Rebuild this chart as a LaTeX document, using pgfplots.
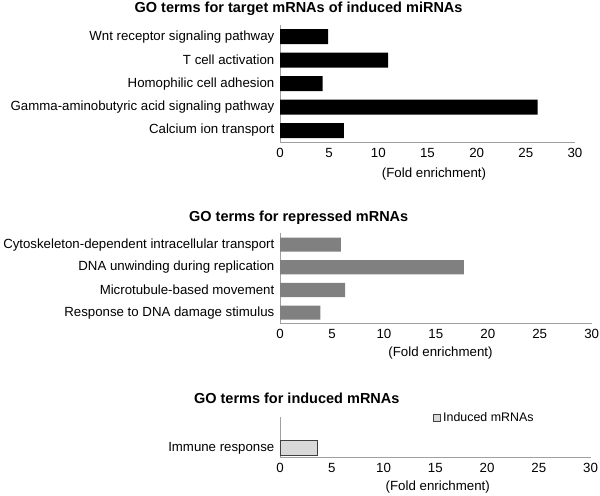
\documentclass[border=0pt]{standalone}
\usepackage{fontspec}
\setmainfont{Liberation Sans}
\usepackage{pgfplots}
\pgfplotsset{compat=1.18}
\definecolor{axgray}{HTML}{A0A0A0}
\definecolor{bargray}{HTML}{808080}
\definecolor{lightbar}{HTML}{D9D9D9}
\definecolor{edgegray}{HTML}{404040}
\pgfplotsset{
  goaxis/.style={
    scale only axis,
    anchor=south west,
    xbar,
    xmin=0, xmax=30,
    xtick={0,5,...,30},
    axis x line*=bottom,
    axis y line*=left,
    axis line style={draw=axgray, line width=1bp},
    major tick length=0pt,
    /pgf/number format/assume math mode=true,
    xticklabel style={anchor=north, inner sep=0pt, yshift=-5.5bp,
      font=\fontsize{13.3bp}{15bp}\selectfont},
    yticklabel style={anchor=east, inner sep=0pt, xshift=-5.5bp,
      font=\fontsize{13.25bp}{15bp}\selectfont},
    xlabel={(Fold enrichment)},
    title style={anchor=base, font=\bfseries\fontsize{14.5bp}{17bp}\selectfont},
    clip=false,
  },
}
\begin{document}
\begin{tikzpicture}
\useasboundingbox (0,0) rectangle (600bp,496bp);

% Panel 1
\begin{axis}[goaxis,
  at={(280bp,353.7bp)},
  width=295bp, height=117.3bp,
  ymin=-0.5, ymax=4.5,
  bar width=0.64,
  ytick={0,1,2,3,4},
  yticklabels={Calcium ion transport,
    Gamma-aminobutyric acid signaling pathway,
    Homophilic cell adhesion,
    T cell activation,
    Wnt receptor signaling pathway},
  title={GO terms for target mRNAs of induced miRNAs},
  title style={at={(0.063,1)}, yshift=6.3bp},
  xlabel style={at={(axis description cs:0.522,0)}, anchor=base, yshift=-35bp,
    font=\fontsize{13.3bp}{15bp}\selectfont},
]
\addplot[fill=black, draw=none] coordinates {
  (6.5,0) (26.2,1) (4.34,2) (11.0,3) (4.9,4)};
\end{axis}

% Panel 2
\begin{axis}[goaxis,
  at={(280bp,172bp)},
  width=311.7bp, height=90.7bp,
  ymin=-0.5, ymax=3.5,
  bar width=0.625,
  ytick={0,1,2,3},
  yticklabels={Response to DNA damage stimulus,
    Microtubule-based movement,
    DNA unwinding during replication,
    Cytoskeleton-dependent intracellular transport},
  title={GO terms for repressed mRNAs},
  title style={at={(0.060,1)}, yshift=6.3bp},
  xlabel style={at={(axis description cs:0.515,0)}, anchor=base, yshift=-32.5bp,
    font=\fontsize{13.3bp}{15bp}\selectfont},
]
\addplot[fill=bargray, draw=none] coordinates {
  (3.88,0) (6.27,1) (17.7,2) (5.85,3)};
\end{axis}

% Panel 3
\begin{axis}[goaxis,
  at={(280bp,38.3bp)},
  width=310.5bp, height=41bp,
  ymin=-0.415, ymax=1.376,
  bar width=0.655,
  ytick={0},
  yticklabels={Immune response},
  title={GO terms for induced mRNAs},
  title style={at={(0.054,1)}, yshift=7.4bp},
  xlabel style={at={(axis description cs:0.508,0)}, anchor=base, yshift=-33bp,
    font=\fontsize{13.3bp}{15bp}\selectfont},
  legend style={at={(0.4935,0.968)}, anchor=west, draw=none, fill=none,
    inner sep=0pt, font=\fontsize{12.4bp}{14bp}\selectfont},
  legend cell align=left,
  legend image code/.code={\draw[#1, line width=0.8bp] (0bp,-3.5bp) rectangle (7bp,3.5bp);},
]
\addplot[fill=lightbar, draw=edgegray, line width=1bp] coordinates {(3.63,0)};
\addlegendentry{Induced mRNAs}
\end{axis}
\end{tikzpicture}
\end{document}
